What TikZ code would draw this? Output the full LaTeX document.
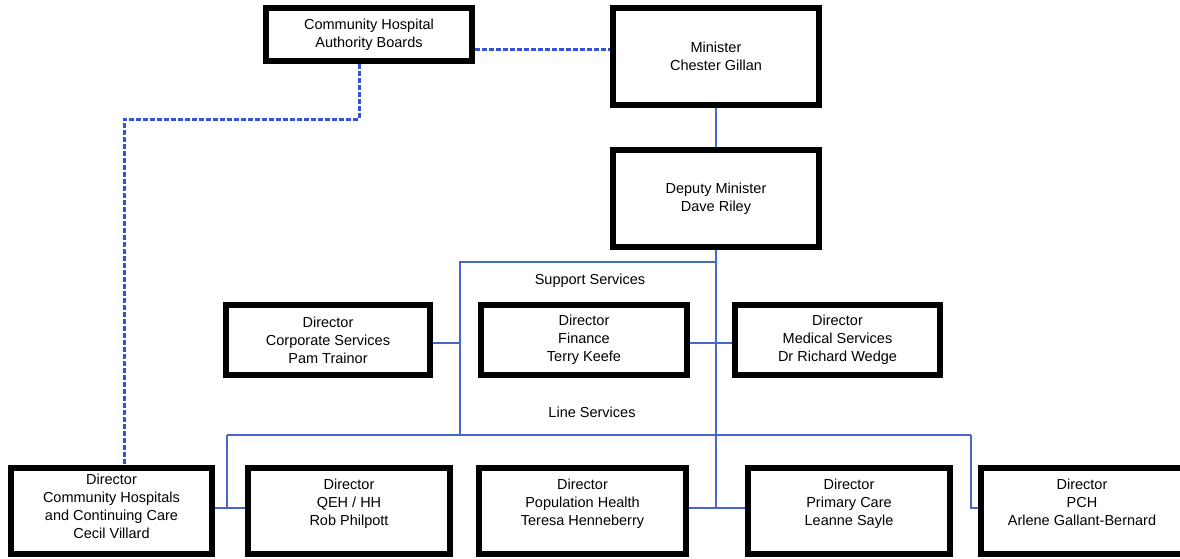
\documentclass[tikz,border=0pt]{standalone}
\usepackage{fontspec}
\setmainfont{Liberation Sans}
\usetikzlibrary{backgrounds}
\definecolor{linkblue}{RGB}{72,102,208}
\definecolor{dashblue}{RGB}{52,82,220}
\tikzset{
  box/.style={draw=black, line width=6pt, fill=white, inner sep=0pt, align=center,
    font=\fontsize{14.5}{18}\selectfont},
  conn/.style={draw=linkblue, line width=1.5pt},
  dashline/.style={draw=dashblue, line width=3pt, dash pattern=on 5pt off 2pt},
  lab/.style={inner sep=0pt, font=\fontsize{14.5}{18}\selectfont}
}
\begin{document}
\begin{tikzpicture}[x=1pt,y=-1pt]
\useasboundingbox (0,0) rectangle (1180,558);
% top
\node[box, minimum width=206pt, minimum height=53pt] (auth) at (369,34.5) {Community Hospital\\Authority Boards};
\node[box, minimum width=206pt, minimum height=97pt] (min) at (716,56.5) {Minister\\Chester Gillan};
\node[box, minimum width=206pt, minimum height=97pt] (dep) at (716,198.5) {Deputy Minister\\Dave Riley};
% middle
\node[box, minimum width=204pt, minimum height=70pt] (corp) at (328,340) {Director\\Corporate Services\\Pam Trainor};
\node[box, minimum width=206pt, minimum height=70pt] (fin) at (584,340) {Director\\Finance\\Terry Keefe};
\node[box, minimum width=205pt, minimum height=70pt] (med) at (837.5,340) {Director\\Medical Services\\Dr Richard Wedge};
% bottom
\node[box, minimum width=201pt, minimum height=86pt] (comm) at (111.5,511) {Director\\Community Hospitals\\and Continuing Care\\Cecil Villard\\[-9pt]~};
\node[box, minimum width=202pt, minimum height=86pt] (qeh) at (349,511) {Director\\QEH / HH\\Rob Philpott\\~};
\node[box, minimum width=207pt, minimum height=86pt] (pop) at (582.5,511) {Director\\Population Health\\Teresa Henneberry\\~};
\node[box, minimum width=202pt, minimum height=86pt] (prim) at (849,511) {Director\\Primary Care\\Leanne Sayle\\~};
\node[box, minimum width=202pt, minimum height=86pt] (pch) at (1082,511) {Director\\PCH\\Arlene Gallant-Bernard\\~};
% labels
\node[lab] (suplab) at (590,281) {Support Services};
\node[lab] (linelab) at (592,412) {Line Services};
% junctions
\coordinate (sj) at (716,262);
\coordinate (sl) at (460,262);
\coordinate (lj) at (460,435);
\coordinate (ll) at (227,435);
\coordinate (lr) at (971,435);
\coordinate (dc) at (124,119);
\begin{scope}[on background layer]
% solid connectors
\draw[conn] (min.south) -- (dep.north);
\draw[conn] (dep.south) -- ([yshift=3pt]dep.south |- pop.east);
\draw[conn] ([yshift=3pt]pop.east) -- ([yshift=3pt]prim.west);
\draw[conn] (sj) -- (sl) -- (lj);
\draw[conn] ([yshift=-3pt]corp.east) -- ([yshift=-3pt]corp.east -| sl);
\draw[conn] ([yshift=-3pt]fin.east) -- ([yshift=-3pt]med.west);
\draw[conn] (ll) -- (lr);
\draw[conn] (ll) -- ([yshift=3pt]ll |- comm.east);
\draw[conn] ([yshift=3pt]comm.east) -- ([yshift=3pt]qeh.west);
\draw[conn] (lr) |- ([yshift=3pt]pch.west);
% dashed connectors
\draw[dashline] ([yshift=-14.5pt]auth.east) -- ([yshift=-14.5pt]auth.east -| min.west);
\draw[dashline] ([xshift=-10pt]auth.south) |- (dc) -- (dc |- comm.north);
\end{scope}
\end{tikzpicture}
\end{document}
